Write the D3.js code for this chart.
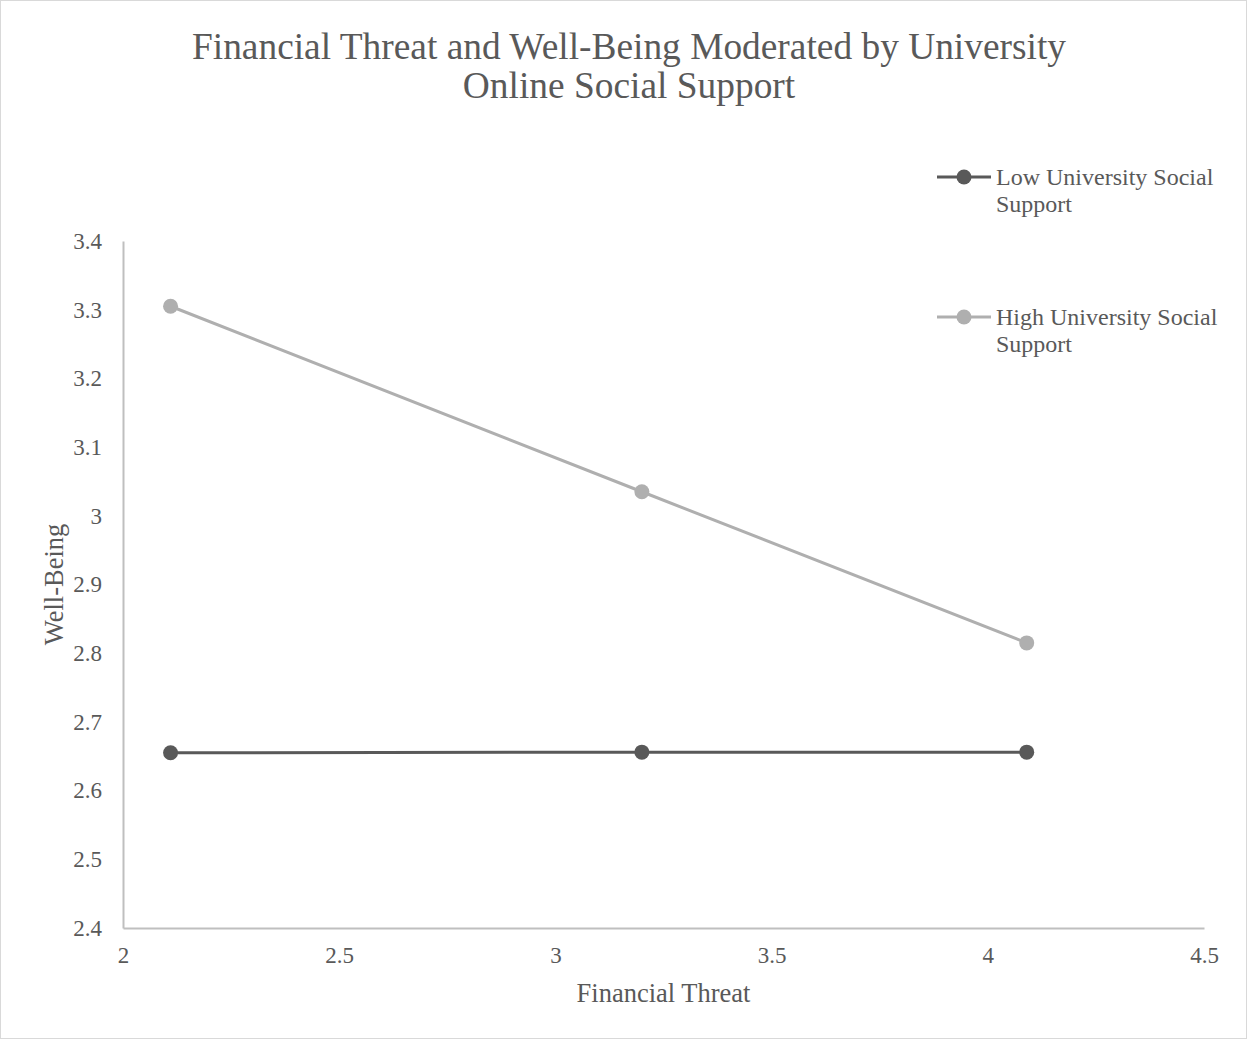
<!DOCTYPE html>
<html>
<head>
<meta charset="utf-8">
<script src="https://cdn.jsdelivr.net/npm/d3@7"></script>
<style>
  html, body { margin: 0; padding: 0; background: #fff; }
  svg text { font-family: "Liberation Serif", "Times New Roman", serif; fill: #595959; }
</style>
</head>
<body>
<svg id="chart" width="1247" height="1039"></svg>
<script>
// Simple-slopes data: well-being at three levels of financial threat
const threatLevels = [2.11, 3.20, 4.09];
const lowSupport = [2.655, 2.656, 2.656];
const highSupport = [3.305, 3.035, 2.815];
const seriesNames = ["Low University Social Support", "High University Social Support"];
const seriesColors = ["#595959", "#afafaf"];
const xTicks = [2, 2.5, 3, 3.5, 4, 4.5];
const yTicks = [2.4, 2.5, 2.6, 2.7, 2.8, 2.9, 3, 3.1, 3.2, 3.3, 3.4];
const titleLines = ["Financial Threat and Well-Being Moderated by University", "Online Social Support"];

const svg = d3.select("#chart");
const W = 1247, H = 1039;

// chart border
svg.append("rect")
  .attr("x", 0.5).attr("y", 0.5)
  .attr("width", W - 1).attr("height", H - 1)
  .attr("fill", "#fff").attr("stroke", "#d9d9d9");

const plot = { left: 123, right: 1204, top: 241, bottom: 928 };
const x = d3.scaleLinear().domain([2, 4.5]).range([plot.left, plot.right]);
const y = d3.scaleLinear().domain([2.4, 3.4]).range([plot.bottom, plot.top]);

// title
svg.append("text")
  .attr("x", 629).attr("y", 59)
  .attr("text-anchor", "middle")
  .style("font-size", "37.4px")
  .selectAll("tspan").data(titleLines).join("tspan")
  .attr("x", 629).attr("dy", (d, i) => i === 0 ? 0 : 39)
  .text(d => d);

// axes
const xAxis = d3.axisBottom(x).tickValues(xTicks).tickSize(0).tickPadding(19)
  .tickFormat(d3.format("~g"));
const yAxis = d3.axisLeft(y).tickValues(yTicks).tickSize(0).tickPadding(21)
  .tickFormat(d3.format("~g"));

const gx = svg.append("g").attr("transform", `translate(0,${plot.bottom})`).call(xAxis);
const gy = svg.append("g").attr("transform", `translate(${plot.left},0)`).call(yAxis);
[gx, gy].forEach(g => {
  g.select(".domain").attr("stroke", "#bfbfbf").attr("stroke-width", 2);
  g.selectAll("text").style("font-size", "23px").attr("fill", "#595959")
    .style("font-family", '"Liberation Serif", "Times New Roman", serif');
});

// axis titles
svg.append("text")
  .attr("x", (plot.left + plot.right) / 2).attr("y", 1002)
  .attr("text-anchor", "middle")
  .style("font-size", "26.5px")
  .text("Financial Threat");
svg.append("text")
  .attr("transform", `translate(63,${(plot.top + plot.bottom) / 2}) rotate(-90)`)
  .attr("text-anchor", "middle")
  .style("font-size", "26.5px")
  .text("Well-Being");

// series
const series = [lowSupport, highSupport];
const line = d3.line().x((d, i) => x(threatLevels[i])).y(d => y(d));
series.forEach((vals, s) => {
  svg.append("path")
    .datum(vals)
    .attr("d", line)
    .attr("fill", "none")
    .attr("stroke", seriesColors[s])
    .attr("stroke-width", 3);
  svg.selectAll(null).data(vals).join("circle")
    .attr("cx", (d, i) => x(threatLevels[i]))
    .attr("cy", d => y(d))
    .attr("r", 7.5)
    .attr("fill", seriesColors[s]);
});

// legend
const legendY = [177, 317];
seriesNames.forEach((name, s) => {
  const g = svg.append("g").attr("transform", `translate(0,${legendY[s]})`);
  g.append("line").attr("x1", 937).attr("x2", 991).attr("y1", 0).attr("y2", 0)
    .attr("stroke", seriesColors[s]).attr("stroke-width", 3);
  g.append("circle").attr("cx", 964).attr("cy", 0).attr("r", 7.5).attr("fill", seriesColors[s]);
  const words = name.split(" ");
  const lines = [words.slice(0, 3).join(" "), words.slice(3).join(" ")];
  g.append("text").attr("x", 996).attr("y", 7.5)
    .style("font-size", "24px")
    .selectAll("tspan").data(lines).join("tspan")
    .attr("x", 996).attr("dy", (d, i) => i === 0 ? 0 : 27.5)
    .text(d => d);
});
</script>
</body>
</html>
